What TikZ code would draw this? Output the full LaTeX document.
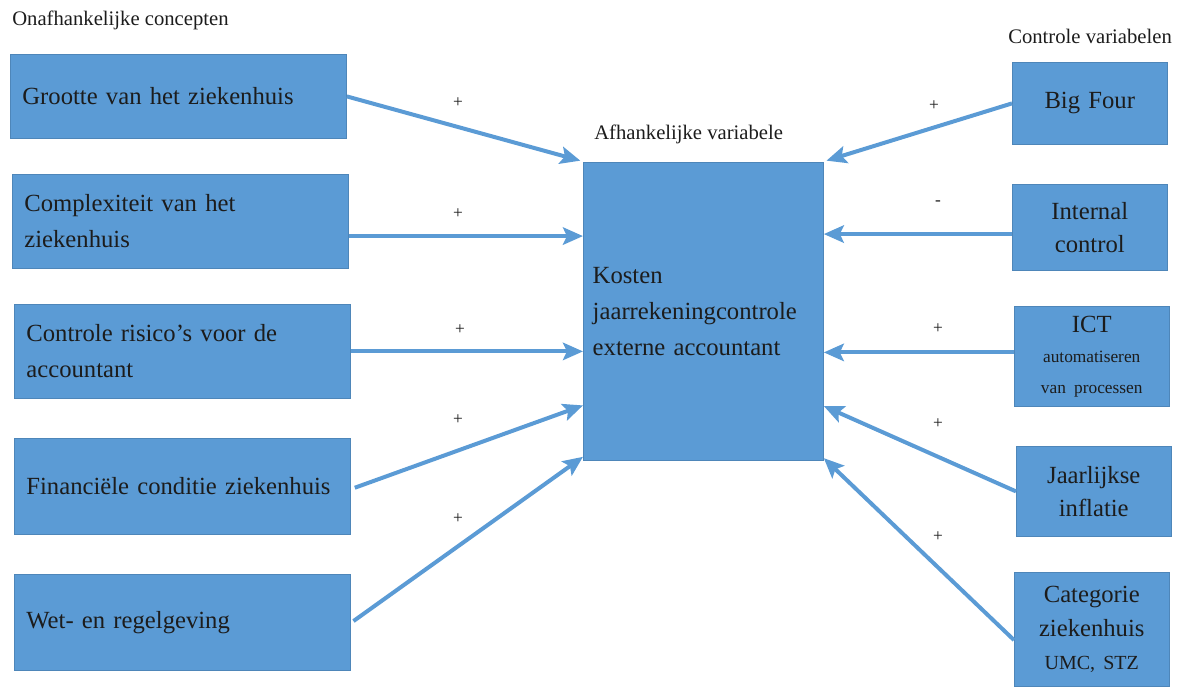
\documentclass[tikz,border=0pt]{standalone}
\usepackage{fontspec}
\setmainfont{Liberation Serif}
\usetikzlibrary{arrows.meta,positioning}
\definecolor{boxblue}{HTML}{5B9BD5}
\definecolor{boxline}{HTML}{4E86B9}
\definecolor{inkdark}{HTML}{1C1C1C}

\begin{document}
\begin{tikzpicture}[x=0.75pt, y=-0.75pt, >={Stealth[length=15pt,width=13pt,inset=3pt]},
	leftbox/.style={rectangle, draw=boxline, line width=0.6pt, fill=boxblue, anchor=north west, minimum width=252pt, text width=234pt, inner xsep=9pt, align=left, text=inkdark, font=\fontsize{18.5}{27}\selectfont},
	rightbox/.style={rectangle, draw=boxline, line width=0.6pt, fill=boxblue, anchor=north west, minimum width=116pt, text width=108pt, inner xsep=4pt, align=center, text=inkdark, font=\fontsize{18.5}{25}\selectfont},
	heading/.style={anchor=west, inner sep=0pt, text=inkdark, font=\fontsize{15.5}{17}\selectfont},
	sign/.style={inner sep=0pt, text=inkdark, font=\fontsize{13}{15}\selectfont},
	link/.style={->, draw=boxblue, line width=3pt}]

	\useasboundingbox (0,0) rectangle (1178,686);

	% headings
	\node[heading] (indep) at (12,20) {Onafhankelijke concepten};
	\node[heading] (dep) at (594,134) {Afhankelijke variabele};
	\node[heading] (contr) at (1008,36) {Controle variabelen};

	% independent concepts
	\node[leftbox, minimum height=63pt] (g1) at (10,54) {Grootte van het ziekenhuis};
	\node[leftbox, minimum height=70.5pt] (g2) at (12,174) {Complexiteit van het\\ziekenhuis};
	\node[leftbox, minimum height=70.5pt] (g3) at (14,304) {Controle risico’s voor de\\accountant};
	\node[leftbox, minimum height=72pt] (g4) at (14,438) {Financiële conditie ziekenhuis};
	\node[leftbox, minimum height=72pt] (g5) at (14,574) {Wet- en regelgeving};

	% dependent variable
	\node[leftbox, minimum width=180pt, text width=166pt, inner xsep=7pt, minimum height=223.5pt] (ctr) at (583,162)
		{Kosten\\jaarrekeningcontrole\\externe accountant};

	% control variables
	\node[rightbox, minimum height=61.5pt] (bigfour) at (1012,62) {Big Four};
	\node[rightbox, minimum height=64.5pt] (intctrl) at (1012,184) {Internal\\control};
	\node[rightbox, minimum height=75pt, font=\fontsize{18.5}{23}\selectfont] (ict) at (1014,306)
		{ICT\\{\fontsize{13}{23}\selectfont automatiseren}\\{\fontsize{13}{23}\selectfont van processen}};
	\node[rightbox, minimum height=67.5pt] (infl) at (1016,446) {Jaarlijkse\\inflatie};
	\node[rightbox, minimum height=85.5pt] (categ) at (1014,572)
		{Categorie\\ziekenhuis\\{\fontsize{15}{25}\selectfont UMC, STZ}};

	% connectors left
	\draw[link] (g1.east) -- ([xshift=-2pt,yshift=1pt]ctr.north west);
	\draw[link] ([yshift=-11pt]g2.east) -- ([yshift=-11pt]g2.east -| ctr.west);
	\draw[link] (g3.east) -- (g3.east -| ctr.west);
	\draw[link] ([xshift=3pt,yshift=-1pt]g4.east) -- ([yshift=-70.5pt]ctr.west);
	\draw[link] ([xshift=2pt,yshift=1pt]g5.east) -- ([yshift=3pt]ctr.south west);

	% connectors right
	\draw[link] (bigfour.west) -- ([xshift=2pt,yshift=1pt]ctr.north east);
	\draw[link] ([yshift=-5pt]intctrl.west) -- ([yshift=-5pt]intctrl.west -| ctr.east);
	\draw[link] ([yshift=3pt]ict.west) -- ([yshift=3pt]ict.west -| ctr.east);
	\draw[link] (infl.west) -- ([yshift=-71pt]ctr.east);
	\draw[link] ([yshift=-8pt]categ.west) -- ([yshift=2pt]ctr.south east);

	% signs
	\node[sign] (s1) at (458,103) {+};
	\node[sign] (s2) at (458,214) {+};
	\node[sign] (s3) at (460,330) {+};
	\node[sign] (s4) at (458,420) {+};
	\node[sign] (s5) at (458,519) {+};
	\node[sign] (t1) at (934,106) {+};
	\node[sign] (t2) at (938,203) {-};
	\node[sign] (t3) at (938,329) {+};
	\node[sign] (t4) at (938,424) {+};
	\node[sign] (t5) at (938,537) {+};

\end{tikzpicture}
\end{document}
